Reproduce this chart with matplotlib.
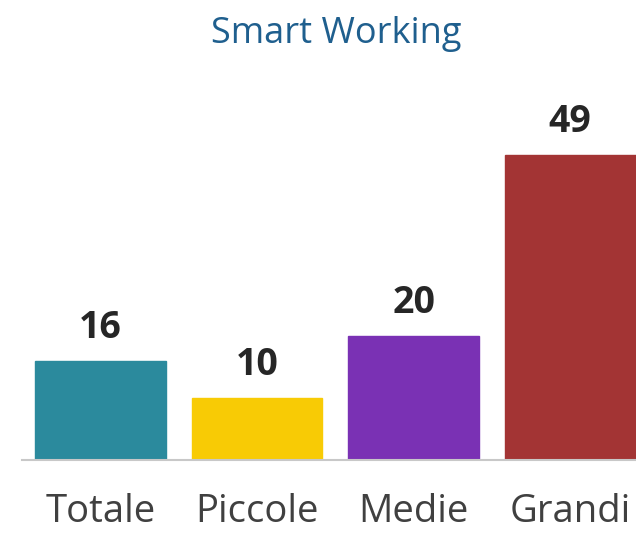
import matplotlib.pyplot as plt

# data
categories = ["Totale", "Piccole", "Medie", "Grandi"]
values = [16, 10, 20, 49]
colors = ["#2B8A9D", "#F8CB05", "#7A31B4", "#A33434"]

W, H = 636, 533
fig = plt.figure(figsize=(W / 100, H / 100), dpi=100)
plt.rcParams['font.family'] = ['Open Sans', 'DejaVu Sans']

# axes placed in pixel terms: baseline at y=460, left edge of axis line at x=22
ax = fig.add_axes([22 / W, 73 / H, (W - 22) / W, 360 / H])

x = list(range(len(categories)))
bars = ax.bar(x, values, width=0.835, color=colors, edgecolor=colors, linewidth=1)

for b, v in zip(bars, values):
    ax.annotate(str(v), (b.get_x() + b.get_width() / 2, v), xytext=(0, 10),
                textcoords="offset points", ha="center", va="bottom",
                fontsize=27, fontweight="bold", color="#262626")

ax.set_xlim(-0.5, 3.42)
ax.set_ylim(0, 57.9)
ax.set_xticks(x)
ax.set_xticklabels(categories, fontsize=27.5, color="#404040")
ax.tick_params(axis="x", length=0, pad=24)
ax.set_yticks([])
for s in ["top", "left", "right"]:
    ax.spines[s].set_visible(False)
ax.spines["bottom"].set_color("#C8C8C8")
ax.spines["bottom"].set_linewidth(1.5)

fig.text(0.528, 1 - 34 / H, "Smart Working", ha="center", va="center",
         fontsize=26, color="#1F5F8E")

fig.savefig("out.png", dpi=100)
